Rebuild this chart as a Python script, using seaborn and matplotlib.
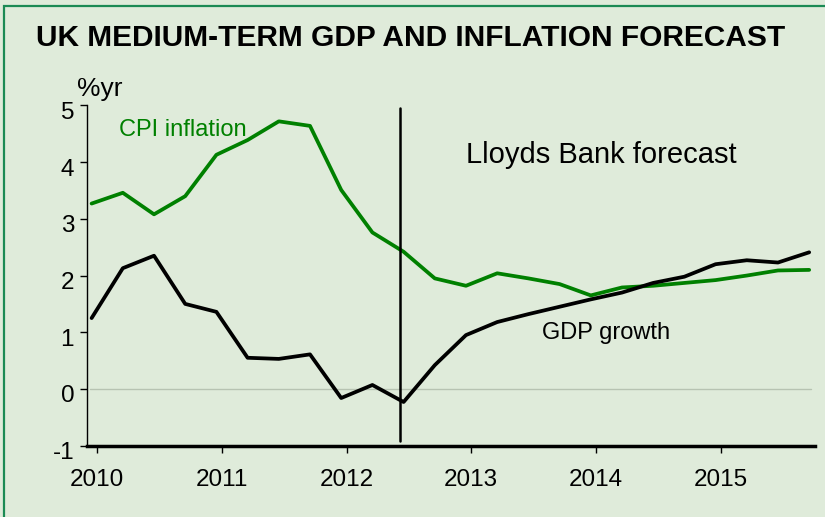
import matplotlib
matplotlib.use("Agg")
import matplotlib.pyplot as plt
import matplotlib.transforms as mtrans
import seaborn as sns
import pandas as pd
from matplotlib.patches import Rectangle

# ---- data (quarterly, 2010 Q1 .. 2015 Q4) ----
quarters = list(range(24))
cpi_inflation = [3.27, 3.46, 3.08, 3.40, 4.13, 4.39, 4.72, 4.64, 3.51, 2.76,
                 2.42, 1.95, 1.82, 2.04, 1.95, 1.85, 1.65, 1.79, 1.82, 1.87,
                 1.92, 2.00, 2.09, 2.10]
gdp_growth = [1.25, 2.13, 2.35, 1.50, 1.36, 0.55, 0.53, 0.61, -0.16, 0.07,
              -0.23, 0.42, 0.95, 1.18, 1.32, 1.45, 1.58, 1.70, 1.87, 1.98,
              2.20, 2.27, 2.23, 2.41]
year_labels = ["2010", "2011", "2012", "2013", "2014", "2015"]
y_ticks = [-1, 0, 1, 2, 3, 4, 5]
forecast_start = 9.9

bg = "#dfebda"
green = "#008000"

sns.set_style("ticks")
plt.rcParams["font.family"] = ["Liberation Sans", "DejaVu Sans"]

df = pd.DataFrame({"q": quarters * 2,
                   "value": cpi_inflation + gdp_growth,
                   "series": ["CPI inflation"] * 24 + ["GDP growth"] * 24})

fig = plt.figure(figsize=(8.25, 5.17), dpi=100, facecolor=bg)
ax = fig.add_axes([0.105, 0.138, 0.883, 0.658])
ax.set_facecolor(bg)

ax.axhline(0, color="#b7c3b2", lw=1, zorder=1, xmin=0.005, xmax=0.995)

sns.lineplot(data=df, x="q", y="value", hue="series",
             palette={"CPI inflation": green, "GDP growth": "black"},
             linewidth=2.7, legend=False, ax=ax, zorder=3)

ax.plot([forecast_start, forecast_start], [4.95, -0.91], color="black", lw=1.8, zorder=4)

ax.set_xlim(-0.16, 23.19)
ax.set_ylim(-1, 5)
ax.set_xticks([i * 4 + 0.17 for i in range(len(year_labels))])
ax.set_xticklabels(year_labels)
ax.set_yticks(y_ticks)
ax.set_yticklabels([str(v) for v in y_ticks])
ax.set_xlabel("")
ax.set_ylabel("")

for s in ["top", "right"]:
    ax.spines[s].set_visible(False)
ax.spines["left"].set_linewidth(1.0)
ax.spines["left"].set_color("black")
ax.spines["bottom"].set_linewidth(2.5)
ax.spines["bottom"].set_color("black")

ax.tick_params(axis="y", length=5, width=1, direction="out", labelsize=17.5, pad=4, colors="black")
ax.tick_params(axis="x", length=5, width=1, direction="out", labelsize=17.5, pad=12, colors="black")
offset = mtrans.ScaledTranslation(0, -3.5 / 72, fig.dpi_scale_trans)
for lab in ax.get_yticklabels():
    lab.set_transform(lab.get_transform() + offset)

# annotations
fig.text(411 / 825, 1 - 38 / 517, "UK MEDIUM-TERM GDP AND INFLATION FORECAST",
         ha="center", va="center", fontsize=21.5, fontweight="bold", color="black")
fig.text(77 / 825, 1 - 89 / 517, "%yr", ha="left", va="center", fontsize=19, color="black")
ax.text(0.88, 4.57, "CPI inflation", color=green, fontsize=17, ha="left", va="center")
ax.text(12.0, 4.12, "Lloyds Bank forecast", color="black", fontsize=21, ha="left", va="center")
ax.text(14.45, 0.98, "GDP growth", color="black", fontsize=17, ha="left", va="center")

# green frame
fig.patches.append(Rectangle((3.5 / 825, -0.1), 1.2, 1.1 - 5.5 / 517,
                             transform=fig.transFigure, fill=False,
                             edgecolor="#1b8a54", lw=1.6, zorder=0))

fig.savefig("out.png", dpi=100, facecolor=bg)
